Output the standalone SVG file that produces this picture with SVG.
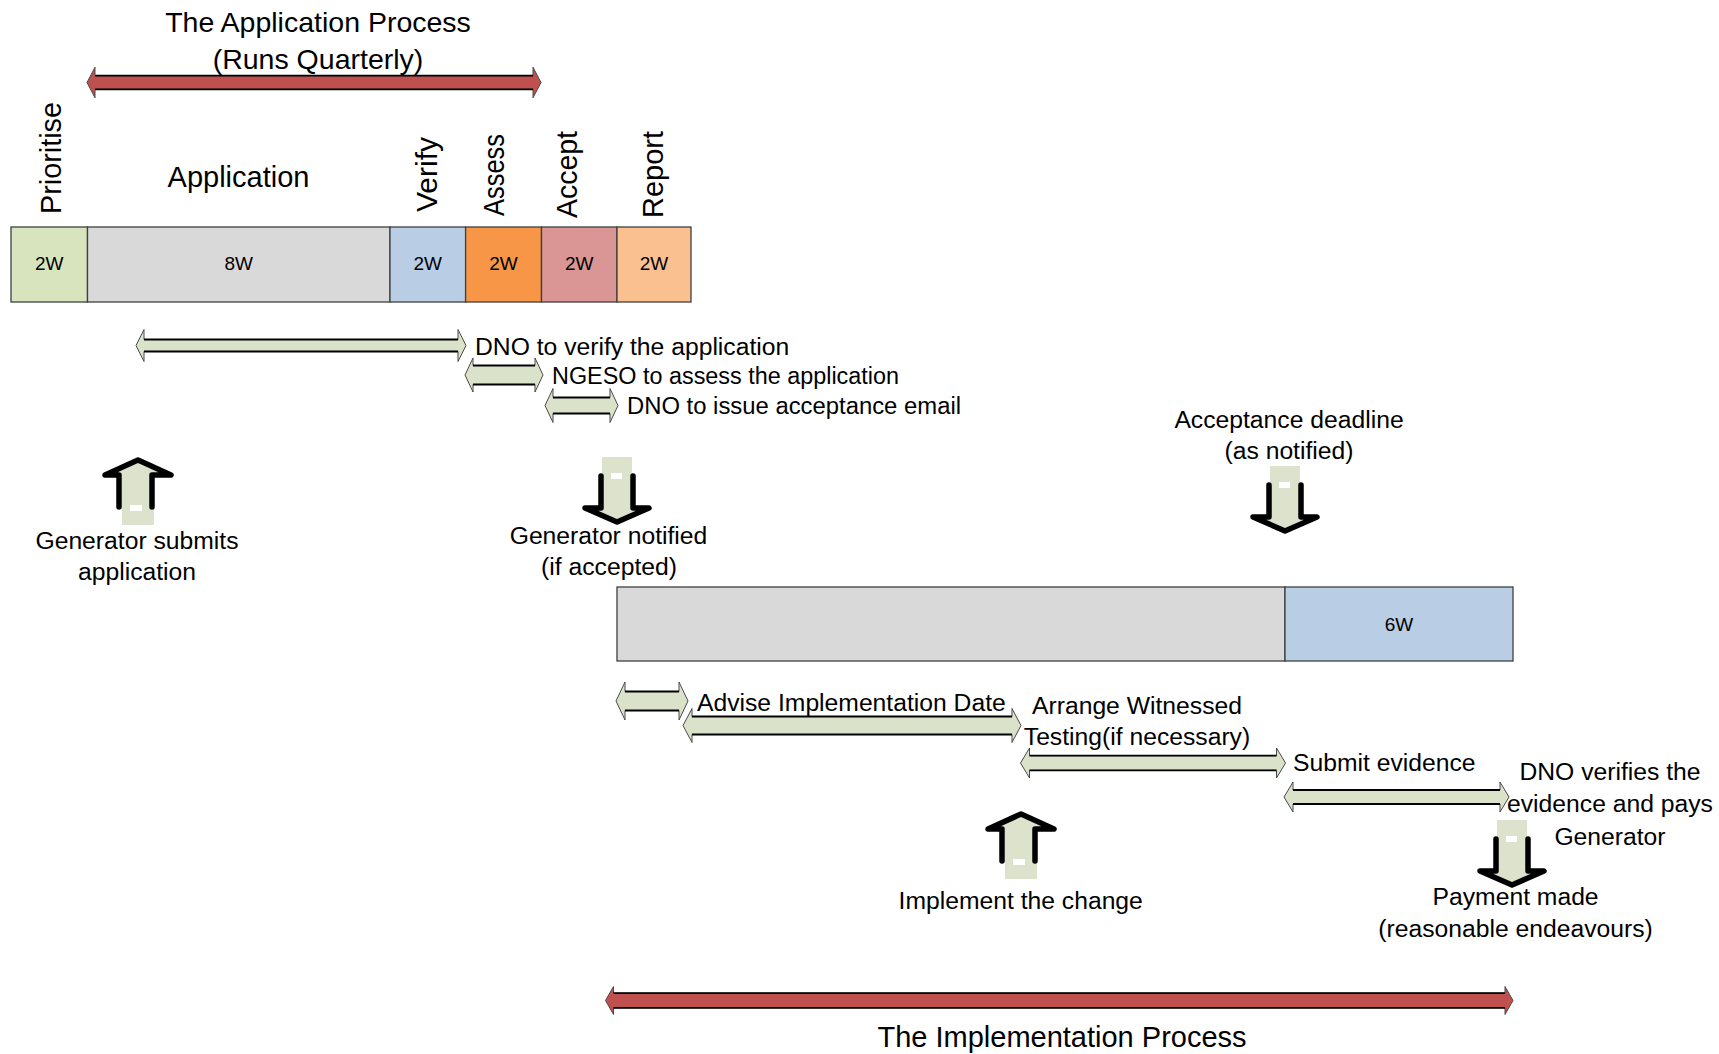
<svg xmlns="http://www.w3.org/2000/svg" width="1719" height="1054" viewBox="0 0 1719 1054">
<style>
.t{font-family:"Liberation Sans",Arial,sans-serif;font-size:24.7px;fill:#000}
.m{text-anchor:middle}
.big{font-size:28.5px}
.rot{font-size:29px}
.wk{font-size:19px;text-anchor:middle}
.seg{stroke:#3f3f3f;stroke-width:1.3}
.ga{fill:#dbe2ca;stroke:#4a4a4a;stroke-width:1}
.ra{fill:#c0504d;stroke:#4a4a4a;stroke-width:1}
.sl{fill:none;stroke:#000;stroke-width:1.8}
.gf{fill:#dce2cc}
.bk{fill:none;stroke:#000;stroke-width:5.5;stroke-linejoin:round;stroke-linecap:round}
</style>
<defs>
<g id="downArrow">
<polygon class="gf" points="-15,-65 15,-65 15,-14 27,-14 0,-2 -27,-14 -15,-14"/>
<path class="bk" d="M-16,-46 V-14 H-32 L0,0 L32,-14 H16 V-46"/>
<rect x="-6" y="-49" width="11" height="6" fill="#fff"/>
</g>
<g id="upArrow">
<polygon class="gf" points="-16,65 16,65 16,15 27,15 0,3 -27,15 -16,15"/>
<path class="bk" d="M-19,47 V15 H-33 L0,0 L33,15 H14 V47"/>
<rect x="-8" y="45" width="12" height="6" fill="#fff"/>
</g>
</defs>
<rect width="1719" height="1054" fill="#fff"/>

<g id="app-title">
<text class="t big m" x="318" y="32">The Application Process</text>
<text class="t big m" x="318" y="69">(Runs Quarterly)</text>
</g>

<g id="app-bar">
<g id="seg-prioritise"><rect class="seg" x="11" y="227" width="76.5" height="75" fill="#d7e4bd"/><text class="t wk" x="49.2" y="270">2W</text>
<text class="t rot" transform="translate(61,214) rotate(-90)" textLength="112" lengthAdjust="spacingAndGlyphs">Prioritise</text></g>
<g id="seg-application"><rect class="seg" x="87.5" y="227" width="302.5" height="75" fill="#d9d9d9"/><text class="t wk" x="238.7" y="270">8W</text>
<text class="t m" style="font-size:29px" x="238.5" y="187">Application</text></g>
<g id="seg-verify"><rect class="seg" x="390" y="227" width="75.6" height="75" fill="#b9cde5"/><text class="t wk" x="427.8" y="270">2W</text>
<text class="t rot" transform="translate(437,212) rotate(-90)" textLength="75" lengthAdjust="spacingAndGlyphs">Verify</text></g>
<g id="seg-assess"><rect class="seg" x="465.6" y="227" width="75.9" height="75" fill="#f79646"/><text class="t wk" x="503.5" y="270">2W</text>
<text class="t rot" transform="translate(504,216) rotate(-90)" textLength="82" lengthAdjust="spacingAndGlyphs">Assess</text></g>
<g id="seg-accept"><rect class="seg" x="541.5" y="227" width="75.5" height="75" fill="#d99694"/><text class="t wk" x="579.2" y="270">2W</text>
<text class="t rot" transform="translate(577,218) rotate(-90)" textLength="87" lengthAdjust="spacingAndGlyphs">Accept</text></g>
<g id="seg-report"><rect class="seg" x="617" y="227" width="74" height="75" fill="#fac090"/><text class="t wk" x="654" y="270">2W</text>
<text class="t rot" transform="translate(663,218) rotate(-90)" textLength="87" lengthAdjust="spacingAndGlyphs">Report</text></g>
</g>

<g id="impl-bar">
<rect class="seg" x="617" y="587" width="668" height="74" fill="#d9d9d9"/>
<rect class="seg" x="1285" y="587" width="228" height="74" fill="#b9cde5"/>
<text class="t wk" x="1399" y="631">6W</text>
</g>

<g id="connectors">
<g id="red-app">
<polygon class="ra" points="87,82.5 95,67.2 95,75.7 533,75.7 533,67.2 541,82.5 533,97.8 533,89.3 95,89.3 95,97.8"/>
<path class="sl" d="M95,75.7H533M95,89.3H533"/>
</g>
<g id="red-impl">
<polygon class="ra" points="605.5,1000.5 613.5,986.5 613.5,993.2 1505,993.2 1505,986.5 1513,1000.5 1505,1014.5 1505,1007.8 613.5,1007.8 613.5,1014.5"/>
<path class="sl" d="M613.5,993.2H1505M613.5,1007.8H1505"/>
</g>
<g id="span-verify">
<polygon class="ga" points="136,345.5 144,329.5 144,339.5 458,339.5 458,329.5 466,345.5 458,361.5 458,351.5 144,351.5 144,361.5"/>
<path class="sl" d="M144,339.5H458M144,351.5H458"/>
</g>
<g id="span-assess">
<polygon class="ga" points="465,375 473,358 473,365.5 535,365.5 535,358 543,375 535,392 535,384.5 473,384.5 473,392"/>
<path class="sl" d="M473,365.5H535M473,384.5H535"/>
</g>
<g id="span-accept">
<polygon class="ga" points="545,405.5 553,388.5 553,397.5 610,397.5 610,388.5 618,405.5 610,422.5 610,413.5 553,413.5 553,422.5"/>
<path class="sl" d="M553,397.5H610M553,413.5H610"/>
</g>
<g id="span-impl-a">
<polygon class="ga" points="616,701 625,682 625,691.5 679,691.5 679,682 688,701 679,720 679,710.5 625,710.5 625,720"/>
<path class="sl" d="M625,691.5H679M625,710.5H679"/>
</g>
<g id="span-advise">
<polygon class="ga" points="683,725.5 692,708.5 692,716.5 1012,716.5 1012,708.5 1021,725.5 1012,742.5 1012,734.5 692,734.5 692,742.5"/>
<path class="sl" d="M692,716.5H1012M692,734.5H1012"/>
</g>
<g id="span-testing">
<polygon class="ga" points="1020.5,763 1029.5,748 1029.5,755.7 1276.5,755.7 1276.5,748 1285.5,763 1276.5,778 1276.5,770.3 1029.5,770.3 1029.5,778"/>
<path class="sl" d="M1029.5,755.7H1276.5M1029.5,770.3H1276.5"/>
</g>
<g id="span-evidence">
<polygon class="ga" points="1284,797 1293,782 1293,790 1500,790 1500,782 1509,797 1500,812 1500,804 1293,804 1293,812"/>
<path class="sl" d="M1293,790H1500M1293,804H1500"/>
</g>
</g>

<g id="span-labels">
<text class="t" x="475" y="355">DNO to verify the application</text>
<text class="t" x="552" y="384" textLength="347" lengthAdjust="spacingAndGlyphs">NGESO to assess the application</text>
<text class="t" x="627" y="414" textLength="334" lengthAdjust="spacingAndGlyphs">DNO to issue acceptance email</text>
<text class="t" x="697" y="711">Advise Implementation Date</text>
<text class="t m" x="1137" y="714">Arrange Witnessed</text>
<text class="t m" x="1137" y="745">Testing(if necessary)</text>
<text class="t" x="1293" y="771">Submit evidence</text>
<text class="t m" x="1610" y="780">DNO verifies the</text>
<text class="t m" x="1610" y="812">evidence and pays</text>
<text class="t m" x="1610" y="845">Generator</text>
</g>

<g id="ev-submit">
<use href="#upArrow" transform="translate(138,460)"/>
<text class="t m" x="137" y="549">Generator submits</text>
<text class="t m" x="137" y="580">application</text>
</g>
<g id="ev-notified">
<use href="#downArrow" transform="translate(617,522)"/>
<text class="t m" x="608.5" y="544">Generator notified</text>
<text class="t m" x="609" y="575">(if accepted)</text>
</g>
<g id="ev-deadline">
<text class="t m" x="1289" y="428">Acceptance deadline</text>
<text class="t m" x="1289" y="459">(as notified)</text>
<use href="#downArrow" transform="translate(1285,531)"/>
</g>
<g id="ev-implement">
<use href="#upArrow" transform="translate(1021,814)"/>
<text class="t m" x="1020.7" y="909">Implement the change</text>
</g>
<g id="ev-payment">
<use href="#downArrow" transform="translate(1512,885)"/>
<text class="t m" x="1515.6" y="905">Payment made</text>
<text class="t m" x="1515.6" y="937">(reasonable endeavours)</text>
</g>

<g id="impl-title">
<text class="t m" style="font-size:29px" x="1062" y="1047">The Implementation Process</text>
</g>
</svg>
